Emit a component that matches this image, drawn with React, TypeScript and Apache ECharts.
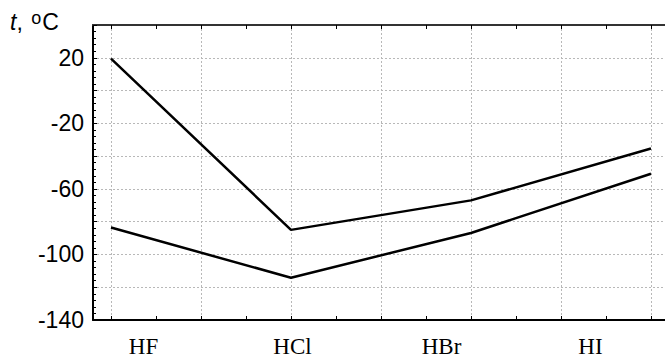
import React, { useEffect, useRef } from "react";
import * as echarts from "echarts";

const compounds = ["HF", "HCl", "HBr", "HI"];
const boilingPoints = [19.5, -85, -67, -35.4];
const meltingPoints = [-83.6, -114.2, -86.9, -50.8];
const yTickValues = [-140, -100, -60, -20, 20];
const gridValues = [0, 0.5, 1, 1.5, 2, 2.5, 3];
const tickValues = [0, 0.25, 0.5, 0.75, 1, 1.25, 1.5, 1.75, 2, 2.25, 2.5, 2.75, 3];

export default function App() {
  const ref = useRef<HTMLDivElement>(null);
  useEffect(() => {
    if (!ref.current) return;
    const chart = echarts.init(ref.current, null, { renderer: "svg" });
    const toPts = (arr: number[]) => arr.map((v, i) => [i, v]);
    chart.setOption({
      animation: false,
      backgroundColor: "#ffffff",
      grid: [
        { left: 93, top: 25, width: 572, height: 295, containLabel: false },
        { left: 69, top: 25, width: 608, height: 295, containLabel: false },
      ],
      xAxis: [
        {
          type: "value",
          gridIndex: 0,
          position: "bottom",
          min: -0.1,
          max: 3.078,
          axisLine: { show: true, onZero: false, lineStyle: { color: "#000", width: 2 } },
          axisTick: { show: true, inside: true, length: 4, customValues: tickValues, lineStyle: { color: "#000" } },
          axisLabel: { show: false },
          splitLine: { show: false },
        },
        {
          type: "value",
          gridIndex: 0,
          position: "top",
          min: -0.1,
          max: 3.078,
          axisLine: { show: true, onZero: false, lineStyle: { color: "#333", width: 2 } },
          axisTick: { show: true, inside: true, length: 4, customValues: tickValues, lineStyle: { color: "#000" } },
          axisLabel: { show: false },
          splitLine: { show: false },
        },
        {
          type: "value",
          gridIndex: 0,
          position: "bottom",
          min: -0.1,
          max: 3.078,
          axisLine: { show: false },
          axisTick: { show: false, customValues: gridValues },
          axisLabel: { show: false },
          splitLine: { show: true, lineStyle: { color: "#b8b8b8", type: [2, 2], width: 1 } },
        },
        {
          type: "category",
          gridIndex: 1,
          data: compounds,
          boundaryGap: true,
          axisLine: { show: false },
          axisTick: { show: false },
          splitLine: { show: false },
          axisLabel: {
            show: true,
            margin: 16,
            color: "#000",
            fontFamily: "Liberation Serif",
            fontSize: 23,
          },
        },
      ],
      yAxis: [
        {
          type: "value",
          gridIndex: 0,
          min: -140,
          max: 40,
          interval: 20,
          axisLine: { show: true, onZero: false, lineStyle: { color: "#000", width: 2 } },
          axisTick: { show: true, inside: true, length: 4, lineStyle: { color: "#000" } },
          minorTick: { show: true, splitNumber: 5, length: 3, lineStyle: { color: "#000" } },
          axisLabel: {
            show: true,
            margin: 9,
            color: "#000",
            fontFamily: "Liberation Sans",
            fontSize: 23,
            formatter: (v: number) => (yTickValues.includes(v) ? String(v) : ""),
          },
          splitLine: { show: true, lineStyle: { color: "#b8b8b8", type: [2, 2], width: 1 } },
        },
        {
          type: "value",
          gridIndex: 1,
          show: false,
        },
      ],
      graphic: [
        {
          type: "text",
          left: 10,
          top: 9,
          style: {
            text: "{i|t}{n|, }{s|o}{n|C}",
            rich: {
              i: { fontFamily: "Liberation Sans", fontStyle: "italic", fontSize: 23, fill: "#000" },
              n: { fontFamily: "Liberation Sans", fontSize: 23, fill: "#000" },
              s: { fontFamily: "Liberation Sans", fontSize: 18, fill: "#000", verticalAlign: "top", padding: [0, 1, 8, 2] },
            },
          },
        },
      ],
      series: [
        {
          type: "line",
          xAxisIndex: 0,
          yAxisIndex: 0,
          data: toPts(boilingPoints),
          symbol: "none",
          lineStyle: { color: "#000", width: 2.5 },
        },
        {
          type: "line",
          xAxisIndex: 0,
          yAxisIndex: 0,
          data: toPts(meltingPoints),
          symbol: "none",
          lineStyle: { color: "#000", width: 2.5 },
        },
      ],
    });
    return () => chart.dispose();
  }, []);
  return (
    <div
      ref={ref}
      style={{ position: "fixed", left: 0, top: 0, width: 665, height: 358, background: "#fff" }}
    />
  );
}
